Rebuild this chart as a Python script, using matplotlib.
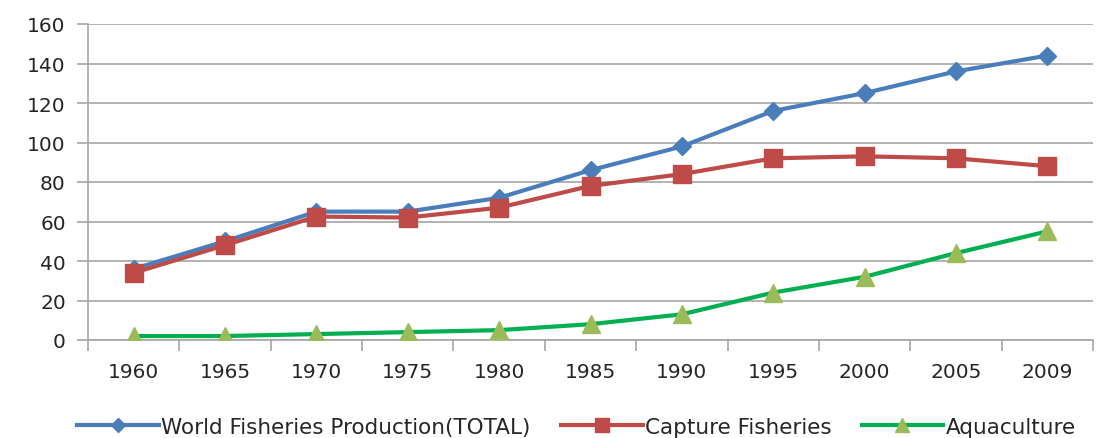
import matplotlib.pyplot as plt

years = ["1960", "1965", "1970", "1975", "1980", "1985", "1990", "1995", "2000", "2005", "2009"]
total = [36, 50, 65, 65, 72, 86, 98, 116, 125, 136, 144]
capture = [34, 48, 62.5, 62, 67, 78, 84, 92, 93, 92, 88]
aqua = [2, 2, 3, 4, 5, 8, 13, 24, 32, 44, 55]

BLUE = "#4a7ebb"
RED = "#be4b48"
GREEN_LINE = "#00b050"
GREEN_MK = "#9bbb59"
GRID = "#a6a6a6"
TEXT = "#262626"

W, H = 1113, 439
fig = plt.figure(figsize=(W / 100, H / 100), dpi=100)
ax = fig.add_axes([88 / W, (H - 341) / H, (1093 - 88) / W, (341 - 25) / H])

x = list(range(len(years)))
ax.plot(x, total, color=BLUE, lw=3, marker="D", ms=9, mfc=BLUE, mec=BLUE,
        label="World Fisheries Production(TOTAL)", zorder=4)
ax.plot(x, capture, color=RED, lw=3, marker="s", ms=13, mfc=RED, mec=RED,
        label="Capture Fisheries", zorder=5)
ax.plot(x, aqua, color=GREEN_LINE, lw=3, marker="^", ms=13, mfc=GREEN_MK, mec=GREEN_MK,
        label="Aquaculture", zorder=5)

ax.set_xlim(-0.5, len(years) - 0.5)
ax.set_ylim(0, 160)
ax.set_yticks(range(0, 161, 20))
ax.set_xticks(x)
ax.set_xticklabels(years)
ax.set_xticks([i - 0.5 for i in range(len(years) + 1)], minor=True)
ax.tick_params(axis="x", which="major", length=0, pad=16, labelsize=14.5, labelcolor=TEXT)
ax.tick_params(axis="x", which="minor", length=8, width=1.2, color=GRID)
ax.tick_params(axis="y", length=8, width=1.2, color=GRID, pad=8, labelsize=14.5, labelcolor=TEXT)

ax.yaxis.grid(True, color=GRID, lw=1.2)
ax.set_axisbelow(True)
for s in ["top", "right"]:
    ax.spines[s].set_visible(False)
for s in ["left", "bottom"]:
    ax.spines[s].set_color(GRID)
    ax.spines[s].set_linewidth(1.2)

fig.legend(loc="center", bbox_to_anchor=(0.518, (H - 428) / H), ncol=3,
           frameon=False, fontsize=15.5, handlelength=3.8, columnspacing=1.4,
           handletextpad=0.1, labelcolor=TEXT, markerscale=0.8)

fig.savefig("out.png", dpi=100, facecolor="white")
